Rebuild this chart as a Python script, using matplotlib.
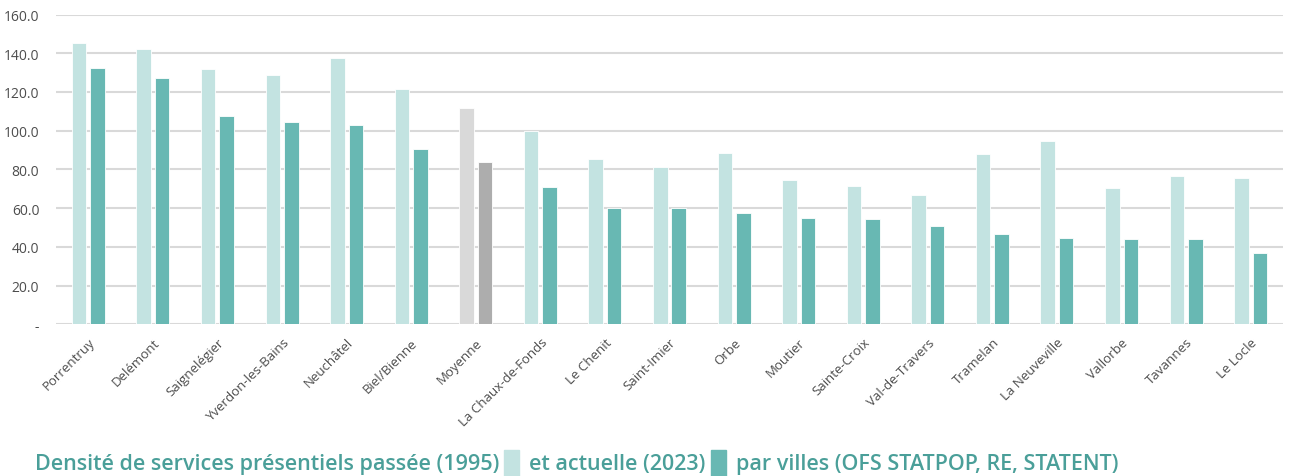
import matplotlib.pyplot as plt
import numpy as np
from matplotlib.patches import Rectangle

plt.rcParams['font.family'] = ['Open Sans', 'DejaVu Sans']

# Data
villes = ['Porrentruy', 'Delémont', 'Saignelégier', 'Yverdon-les-Bains', 'Neuchâtel',
          'Biel/Bienne', 'Moyenne', 'La Chaux-de-Fonds', 'Le Chenit', 'Saint-Imier',
          'Orbe', 'Moutier', 'Sainte-Croix', 'Val-de-Travers', 'Tramelan',
          'La Neuveville', 'Vallorbe', 'Tavannes', 'Le Locle']
dens_1995 = [145.4, 142.1, 131.6, 128.8, 137.6, 121.6, 111.9, 99.9, 85.3, 81.3,
             88.5, 74.7, 71.5, 66.7, 87.9, 94.6, 70.4, 76.8, 75.6]
dens_2023 = [132.5, 127.1, 107.5, 104.5, 103.0, 90.4, 84.0, 70.8, 60.3, 60.3,
             57.5, 55.1, 54.3, 50.6, 46.5, 44.6, 44.1, 44.1, 36.8]
yticks = [0, 20, 40, 60, 80, 100, 120, 140, 160]
ytick_labels = ['-', '20.0', '40.0', '60.0', '80.0', '100.0', '120.0', '140.0', '160.0']

light = '#c3e3e1'
dark = '#68b8b3'
light_avg = '#d9d9d9'
dark_avg = '#adadad'
text_col = '#4a9f99'

fig = plt.figure(figsize=(12.89, 4.77), dpi=100)
ax = fig.add_axes([56 / 1289, 1 - 325.3 / 477, 1227 / 1289, 309.8 / 477])

x = np.arange(len(villes))
c1 = [light_avg if v == 'Moyenne' else light for v in villes]
c2 = [dark_avg if v == 'Moyenne' else dark for v in villes]
w = 0.225
ax.bar(x - 0.143, dens_1995, width=w, color=c1, edgecolor='white', linewidth=0.6, zorder=3)
ax.bar(x + 0.143, dens_2023, width=w, color=c2, edgecolor='white', linewidth=0.6, zorder=3)

ax.set_xlim(-0.5, len(villes) - 0.5)
ax.set_ylim(0, 160)
ax.set_yticks(yticks)
ax.set_yticklabels(ytick_labels, fontsize=10, color='#4d4d4d')
ax.yaxis.grid(True, color='#d9d9d9', linewidth=1.5, zorder=0)
ax.set_axisbelow(True)
ax.set_xticks(x)
ax.set_xticklabels(villes, rotation=45, ha='right', rotation_mode='anchor',
                   fontsize=9.5, color='#4d4d4d')
ax.tick_params(length=0, axis='both')
ax.tick_params(axis='x', pad=8)
ax.tick_params(axis='y', pad=12)
for s in ax.spines.values():
    s.set_visible(False)

# caption with inline legend squares
fig.canvas.draw()
r = fig.canvas.get_renderer()
W, H = 1289, 477
ypos = 1 - 465 / H
xcur = 35
parts = ['Densité de services présentiels passée (1995)', light,
         'et actuelle (2023)', dark,
         'par villes (OFS STATPOP, RE, STATENT)']
for p in parts:
    if p.startswith('#'):
        fig.patches.append(Rectangle(((xcur + 5) / W, 1 - 477 / H), 15 / W, 26 / H,
                                     transform=fig.transFigure, color=p))
        xcur += 30
    else:
        t = fig.text(xcur / W, ypos, p, fontsize=15.5, fontweight='semibold',
                     color=text_col, va='center', ha='left')
        xcur += t.get_window_extent(r).width

fig.savefig('out.png', dpi=100)
